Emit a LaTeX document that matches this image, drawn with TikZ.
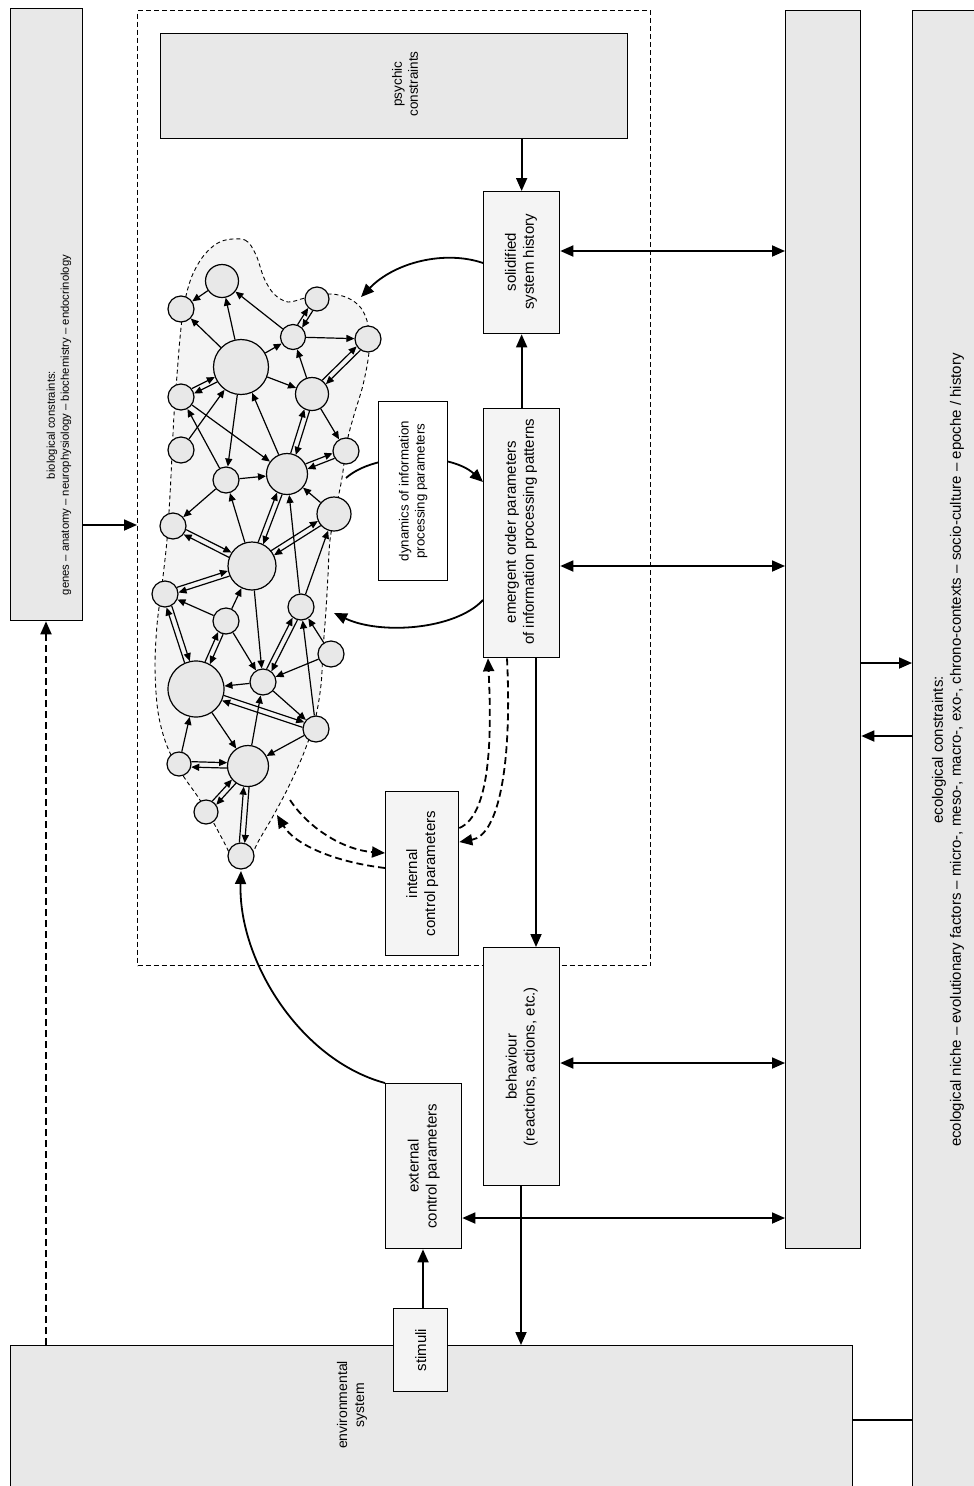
\documentclass[tikz,border=0pt]{standalone}
\usepackage{fontspec}
\setmainfont{Liberation Sans}
\usetikzlibrary{arrows.meta,calc}

\definecolor{panelgray}{HTML}{E8E8E8}
\definecolor{boxfill}{HTML}{F4F4F4}
\definecolor{blobfill}{HTML}{F4F4F4}

% rectangle node from its corners: style, name, x1, y1, x2, y2
\newcommand\panel[6]{%
  \node[#1, anchor=north west, minimum width={#5-#3}, minimum height={#6-#4}] (#2) at (#3,#4) {};}

% network node: name, x, y, radius
\newcommand\nn[4]{%
  \node[circ, minimum size={2*#4}] (#1) at (#2,#3) {};%
  \expandafter\gdef\csname rad#1\endcsname{#4}}

% one-way link between two network nodes
\newcommand\lk[2]{\draw[link] (#1) -- (#2);}

% pair of opposite links, drawn side by side
\newcommand\dl[2]{%
  \edef\ra{\csname rad#1\endcsname}\edef\rb{\csname rad#2\endcsname}%
  \draw[link, shorten <={sqrt(\ra*\ra-7.3)*1pt+0.6pt}, shorten >={sqrt(\rb*\rb-7.3)*1pt+0.6pt}]
    ($(#1)!2.7pt!90:(#2)$) -- ($(#2)!2.7pt!-90:(#1)$);
  \draw[link, shorten <={sqrt(\rb*\rb-7.3)*1pt+0.6pt}, shorten >={sqrt(\ra*\ra-7.3)*1pt+0.6pt}]
    ($(#2)!2.7pt!90:(#1)$) -- ($(#1)!2.7pt!-90:(#2)$);}

\begin{document}
\begin{tikzpicture}[x=1pt,y=-1pt,
  bigbox/.style={draw, line width=1.3pt, fill=panelgray, inner sep=0pt},
  subbox/.style={draw, line width=1.3pt, fill=boxfill, inner sep=0pt},
  plainbox/.style={draw, line width=1.3pt, fill=white, inner sep=0pt},
  frame/.style={draw, line width=1pt, dash pattern=on 5pt off 3pt, inner sep=0pt},
  label/.style={rotate=90, align=center, inner sep=0pt, font=\fontsize{15}{18}\selectfont},
  conn/.style={line width=1.8pt, -{Triangle[length=13pt,width=11pt]}},
  conn2/.style={line width=1.8pt, {Triangle[length=13pt,width=11pt]}-{Triangle[length=13pt,width=11pt]}},
  dconn/.style={conn, dash pattern=on 7pt off 4pt},
  link/.style={line width=1.2pt, -{Triangle[length=8pt,width=7pt]}},
  circ/.style={circle, draw, line width=1.2pt, fill=panelgray, inner sep=0pt}
]
\useasboundingbox (0,0) rectangle (974,1486);

% ---------- outer panels ----------
\panel{bigbox}{bio}{10}{8}{82}{620}
\panel{bigbox}{mid}{785}{10}{860}{1248}
\panel{bigbox}{eco}{912}{10}{1000}{1500}
\panel{bigbox}{env}{10}{1345}{852}{1500}
\panel{frame}{core}{137}{10}{650}{965}

% ---------- inner boxes ----------
\panel{bigbox}{psy}{160}{33}{627}{138}
\panel{subbox}{sol}{483}{191}{559}{333}
\panel{subbox}{emer}{483}{408}{559}{657}
\panel{subbox}{intl}{385}{791}{458}{955}
\panel{subbox}{beh}{483}{947}{559}{1185}
\panel{subbox}{extl}{385}{1083}{461}{1248}
\panel{subbox}{stim}{393}{1308}{447}{1391}

% ---------- network region ----------
\path[draw, fill=blobfill, line width=0.9pt, dash pattern=on 4pt off 3pt]
  plot[smooth cycle, tension=0.55] coordinates {
  (222,241) (245,240) (256,255) (264,278) (274,294) (288,302) (305,298)
  (330,294) (348,298) (361,308) (368,325) (369,352) (363,385) (354,415)
  (347,442) (342,478) (336,508) (330,540) (328,575) (326,610) (323,650)
  (321,685) (315,720) (303,755) (288,788) (272,818) (258,842) (248,862)
  (236,866) (226,846) (212,820) (198,797) (182,774) (167,746) (158,712)
  (155,668) (157,625) (162,585) (167,540) (170,495) (172,455) (174,415)
  (177,375) (180,338) (184,305) (192,276) (205,254)};

\nn{n1}{222}{281}{16.5}
\nn{n2}{181}{309}{13}
\nn{n3}{241}{367}{27.5}
\nn{n4}{317}{299}{12}
\nn{n5}{293}{337}{12.5}
\nn{n6}{368}{339}{13}
\nn{n7}{312}{394}{16.5}
\nn{n8}{181}{397}{13}
\nn{n9}{181}{450}{13}
\nn{n10}{226}{480}{13}
\nn{n11}{346}{451}{13}
\nn{n12}{287}{474}{20.5}
\nn{n13}{334}{514}{17}
\nn{n14}{173}{526}{13}
\nn{n15}{252}{566}{24}
\nn{n16}{165}{594}{13}
\nn{n17}{301}{607}{13}
\nn{n18}{226}{621}{13}
\nn{n19}{331}{654}{13}
\nn{n20}{196}{689}{28}
\nn{n21}{263}{682}{13}
\nn{n22}{316}{729}{13}
\nn{n23}{179}{764}{12}
\nn{n24}{248}{766}{20.5}
\nn{n25}{206}{812}{12}
\nn{n26}{241}{856}{13}

\lk{n1}{n2} \lk{n3}{n1} \lk{n5}{n1} \lk{n3}{n2} \lk{n3}{n5} \lk{n3}{n7}
\lk{n5}{n6} \lk{n7}{n5} \lk{n9}{n3} \lk{n8}{n12} \lk{n10}{n8} \lk{n3}{n10}
\lk{n12}{n3} \lk{n7}{n11} \lk{n10}{n12} \lk{n10}{n14} \lk{n13}{n12}
\lk{n15}{n10} \lk{n17}{n12} \lk{n17}{n13} \lk{n18}{n16} \lk{n18}{n15}
\lk{n18}{n21} \lk{n15}{n21} \lk{n22}{n17} \lk{n19}{n17} \lk{n19}{n21}
\lk{n21}{n20} \lk{n21}{n22} \lk{n22}{n24} \lk{n20}{n24} \lk{n24}{n21}
\lk{n23}{n20}

\dl{n4}{n5} \dl{n6}{n7} \dl{n8}{n3} \dl{n12}{n7} \dl{n11}{n12} \dl{n12}{n15}
\dl{n14}{n15} \dl{n13}{n15} \dl{n16}{n15} \dl{n16}{n20} \dl{n18}{n20}
\dl{n17}{n21} \dl{n22}{n20} \dl{n23}{n24} \dl{n24}{n25} \dl{n24}{n26}

% ---------- free ends on the network outline ----------
\coordinate (inSol) at (361,297);
\coordinate (outDyn) at (346,478);
\coordinate (inEmer) at (334,613);
\coordinate (outInt) at (290,800);
\coordinate (inInt) at (277,815);
\coordinate (inBottom) at (241,871);

% ---------- curved connectors ----------
\draw[conn] (sol.west |- 0,263) .. controls (445,250) and (395,262) .. (inSol);
\draw[conn] (outDyn) .. controls (375,452) and (450,452) .. (emer.west |- 0,482);
\draw[conn] (emer.west |- 0,600) .. controls (455,630) and (380,635) .. (inEmer);
\draw[dconn] (outInt) .. controls (310,830) and (345,850) .. (intl.west |- 0,853);
\draw[dconn] (intl.west |- 0,868) .. controls (335,862) and (295,845) .. (inInt);
\draw[dconn] (emer.south -| 507,0) .. controls (512,760) and (500,835) .. (intl.east |- 0,842);
\draw[dconn] (intl.east |- 0,828) .. controls (490,815) and (492,740) .. (emer.south -| 488,0);
\draw[conn] (extl.north west) .. controls (300,1060) and (238,960) .. (inBottom);

% ---------- box with its own label, drawn over the curve ----------
\panel{plainbox}{dyn}{378}{401}{447}{580}

% ---------- straight connectors ----------
\draw[conn] (bio.east |- 0,525) -- (core.west |- 0,525);
\draw[conn] (psy.south -| sol.north) -- (sol.north);
\draw[conn] (emer.north) -- (sol.south);
\draw[conn2] (sol.east |- 0,251) -- (mid.west |- 0,251);
\draw[conn2] (emer.east |- 0,566) -- (mid.west |- 0,566);
\draw[conn2] (beh.east |- 0,1063) -- (mid.west |- 0,1063);
\draw[conn2] (extl.east |- 0,1218) -- (mid.west |- 0,1218);
\draw[conn] (emer.south -| 536,0) -- (beh.north -| 536,0);
\draw[conn] (beh.south -| 521,0) -- (env.north -| 521,0);
\draw[conn] (stim.north -| 423,0) -- (extl.south -| 423,0);
\draw[conn] (mid.east |- 0,663) -- (eco.west |- 0,663);
\draw[conn] (eco.west |- 0,736) -- (mid.east |- 0,736);
\draw[line width=1.3pt] (env.east |- 0,1420) -- (eco.west |- 0,1420);
\draw[dconn] (env.north -| 46,0) -- (bio.south -| 46,0);

% ---------- labels ----------
\node[label, font=\fontsize{11.3}{14}\selectfont] (bio-t) at (59,425) {biological constraints:\\genes -- anatomy -- neurophysiology -- biochemistry -- endocrinology};
\node[label, font=\fontsize{13.5}{16}\selectfont] (psy-t) at (405,84) {psychic\\constraints};
\node[label] (sol-t) at (521,262) {solidified\\system history};
\node[label] (emer-t) at (521,532) {emergent order parameters\\of information processing patterns};
\node[label, font=\fontsize{13.3}{16}\selectfont] (dyn-t) at (dyn.center) {dynamics of information\\processing parameters};
\node[label] (intl-t) at (intl.center) {internal\\control parameters};
\node[label] (beh-t) at (beh.center) {behaviour\\(reactions, actions, etc.)};
\node[label] (extl-t) at (extl.center) {external\\control parameters};
\node[label] (stim-t) at (stim.center) {stimuli};
\node[label, font=\fontsize{14}{17}\selectfont] (env-t) at (352,1405) {environmental\\system};
\node[label] (eco-t) at (948,750) {ecological constraints:\\ecological niche -- evolutionary factors -- micro-, meso-, macro-, exo-, chrono-contexts -- socio-culture -- epoche / history};
\end{tikzpicture}
\end{document}
